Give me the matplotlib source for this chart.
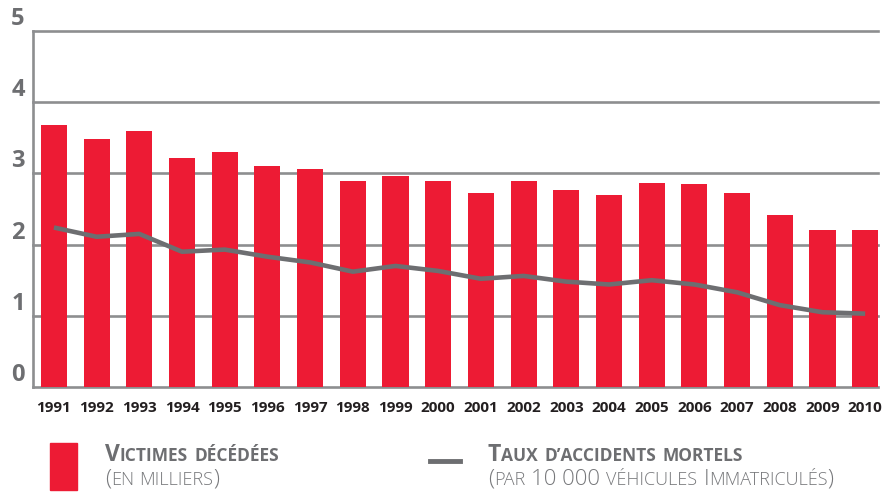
import matplotlib
matplotlib.use('Agg')
import matplotlib.pyplot as plt
import numpy as np

years = ['1991', '1992', '1993', '1994', '1995', '1996', '1997', '1998', '1999', '2000',
         '2001', '2002', '2003', '2004', '2005', '2006', '2007', '2008', '2009', '2010']
victimes = [3.68, 3.48, 3.59, 3.21, 3.30, 3.11, 3.06, 2.90, 2.96, 2.89,
            2.73, 2.90, 2.76, 2.70, 2.87, 2.85, 2.73, 2.41, 2.21, 2.20]
taux = [2.24, 2.11, 2.15, 1.90, 1.93, 1.83, 1.75, 1.62, 1.70, 1.63,
        1.52, 1.56, 1.48, 1.44, 1.50, 1.44, 1.33, 1.15, 1.05, 1.03]
yticks = [0, 1, 2, 3, 4, 5]

RED = '#ed1b34'
GREY = '#6d6e71'
GRID = '#8d8e90'
W, H = 882, 496

plt.rcParams['font.family'] = ['Open Sans', 'DejaVu Sans']

fig = plt.figure(figsize=(W / 100, H / 100), dpi=100)
ax = fig.add_axes([33 / W, 1 - 387 / H, (878 - 33) / W, (387 - 31) / H])

x = np.arange(len(years))
for v in yticks:
    ax.axhline(v, color=GRID, lw=1.9, zorder=1, clip_on=False)
    ax.annotate(str(v), xy=(0, v), xycoords=ax.get_yaxis_transform(),
                xytext=(-15, 12), textcoords='offset pixels', ha='center', va='center',
                fontsize=17, fontweight='bold', color=GREY)
ax.axvline(-0.49, color=GRID, lw=1.9, zorder=1, clip_on=False)

ax.bar(x, victimes, width=0.61, color=RED, zorder=2)
ax.plot(x, taux, color=GREY, lw=3.3, solid_joinstyle='round', solid_capstyle='butt', zorder=3)

ax.set_xlim(-0.49, 19.3)
ax.set_ylim(0, 5)
ax.set_yticks([])
ax.set_xticks(x)
ax.set_xticklabels(years, fontsize=11, fontweight='bold', color='#231f20')
ax.tick_params(axis='x', length=0, pad=10)
for s in ax.spines.values():
    s.set_visible(False)

renderer = fig.canvas.get_renderer()


def runs(px, py, parts, color=GREY):
    # parts: (text, size, weight) ; text None -> gap in pixels given by size
    for s, size, weight in parts:
        if s is None:
            px += size
            continue
        t = fig.text(px / W, 1 - py / H, s, fontsize=size, fontweight=weight,
                     color=color, va='baseline', ha='left')
        px += t.get_window_extent(renderer).width


# legend: red box
fig.patches.append(plt.Rectangle((50 / W, 1 - 490 / H), 27 / W, 47 / H,
                                 transform=fig.transFigure, color=RED))
runs(105, 461, [('V', 16.5, 'bold'), ('ICTIMES', 12.5, 'bold'), (None, 6, ''),
                ('DÉCÉDÉES', 12.5, 'bold')])
runs(105, 485, [('(', 16, 'light'), ('EN', 13, 'light'), (None, 5, ''),
                ('MILLIERS', 13, 'light'), (')', 16, 'light')], color='#77787b')

# legend: grey line
fig.add_artist(plt.Line2D([430 / W, 460 / W], [1 - 461 / H, 1 - 461 / H],
                          color=GREY, lw=3.5))
runs(488, 461, [('T', 16.5, 'bold'), ('AUX', 12.5, 'bold'), (None, 6, ''),
                ('D’ACCIDENTS', 12.5, 'bold'), (None, 6, ''), ('MORTELS', 12.5, 'bold')])
runs(488, 485, [('(', 16, 'light'), ('PAR', 13, 'light'), (None, 6, ''),
                ('10 000', 16, 'light'), (None, 6, ''), ('VÉHICULES', 13, 'light'),
                (None, 6, ''), ('I', 16, 'light'), ('MMATRICULÉS', 13, 'light'),
                (')', 16, 'light')], color='#77787b')

fig.savefig('out.png', dpi=100)
